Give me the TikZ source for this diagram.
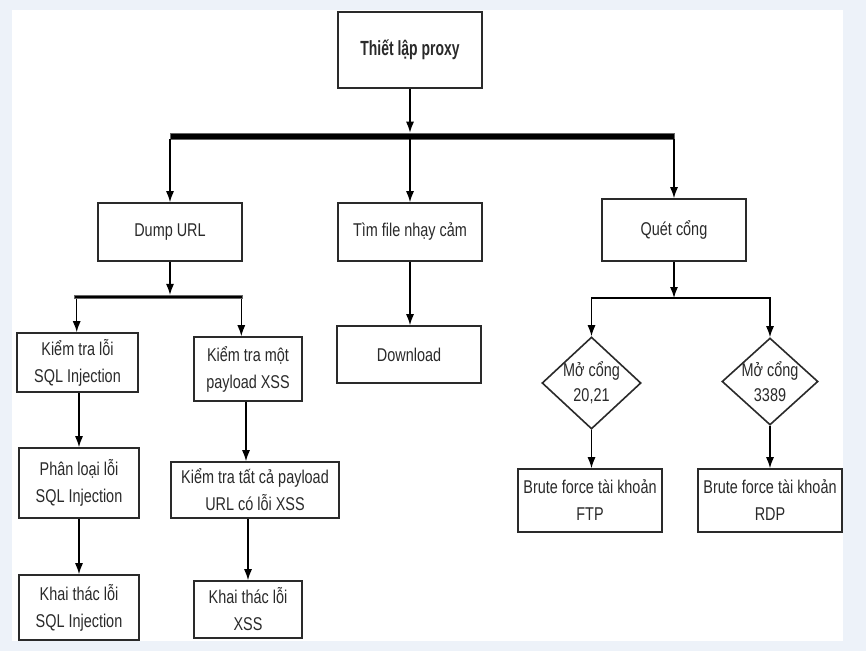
\documentclass[tikz,border=0pt]{standalone}
\usepackage{fontspec}
\setmainfont{Liberation Sans}[FakeStretch=0.78]
\newfontfamily\titlefont{Liberation Sans}[FakeStretch=0.68]
\usetikzlibrary{shapes.geometric,arrows.meta}
\definecolor{bgc}{HTML}{EDF2F9}
\definecolor{ink}{HTML}{2A2A2A}
\begin{document}
\begin{tikzpicture}[x=1pt,y=-1pt,
  box/.style={draw=ink,line width=1.6pt,fill=white,inner sep=1pt,align=center,text=ink,
    font=\fontsize{18.5}{27}\selectfont},
  dia/.style={diamond,draw=ink,line width=1.6pt,fill=white,inner sep=0pt},
  dialabel/.style={text=ink,align=center,inner sep=0pt,font=\fontsize{18.5}{25}\selectfont},
  arr/.style={-{Latex[length=11pt,width=8pt]},line width=1.3pt,draw=black},
  plain/.style={line width=1.3pt,draw=black},
  barbox/.style={fill=black,draw=black!60,line width=0.6pt,inner sep=0pt}
]
\useasboundingbox (0,0) rectangle (866,651);
\fill[bgc] (0,0) rectangle (866,651);
\fill[white] (12,10) rectangle (843,641);

% nodes
\node[box,minimum width=144pt,minimum height=76pt,font=\titlefont\bfseries\fontsize{20.5}{24}\selectfont] (proxy) at (410,50) {Thiết lập proxy};
\node[barbox,minimum width=504pt,minimum height=6pt] (bar1) at (422,136) {};

\node[box,minimum width=144pt,minimum height=58pt] (dump) at (170,232) {Dump URL};
\node[box,minimum width=144pt,minimum height=58pt] (timfile) at (410,232) {Tìm file nhạy cảm};
\node[box,minimum width=144pt,minimum height=62pt] (quet) at (674,230) {Quét cổng};

\node[barbox,minimum width=168pt,minimum height=3.5pt] (bar2) at (158,297) {};
\coordinate (j3) at (674,298);

\node[box,minimum width=121pt,minimum height=59pt] (sql1) at (77.5,362.5) {Kiểm tra lỗi\\SQL Injection};
\node[box,minimum width=108pt,minimum height=64pt] (xss1) at (248,369) {Kiểm tra một\\payload XSS};
\node[box,minimum width=144pt,minimum height=57pt] (download) at (409,354.5) {Download};

\node[dia,minimum width=99pt,minimum height=92pt,
  label={[dialabel]center:Mở cổng\\20,21}] (d1) at (591.5,383) {};
\node[dia,minimum width=96pt,minimum height=87pt,
  label={[dialabel]center:Mở cổng\\3389}] (d2) at (770,381.5) {};

\node[box,minimum width=120pt,minimum height=70pt] (sql2) at (79,483) {Phân loại lỗi\\SQL Injection};
\node[box,minimum width=168pt,minimum height=56pt] (xss2) at (255,490) {Kiểm tra tất cả payload\\URL có lỗi XSS};
\node[box,minimum width=144pt,minimum height=63pt] (ftp) at (590,500.5) {Brute force tài khoản\\FTP};
\node[box,minimum width=144pt,minimum height=63pt] (rdp) at (770,500.5) {Brute force tài khoản\\RDP};

\node[box,minimum width=120pt,minimum height=65pt] (sql3) at (79,607.5) {Khai thác lỗi\\SQL Injection};
\node[box,minimum width=108pt,minimum height=57pt] (xss3) at (248,609.5) {Khai thác lỗi\\XSS};

% connectors
\draw[arr] (proxy.south) -- (proxy.south |- bar1.north);
\draw[arr] (dump.north |- bar1.south) -- (dump.north);
\draw[arr] (timfile.north |- bar1.south) -- (timfile.north);
\draw[arr] (quet.north |- bar1.south) -- (quet.north);

\draw[arr] (dump.south) -- (dump.south |- bar2.north);
\draw[arr] ([xshift=3pt]bar2.south west) -- ([xshift=3pt]bar2.south west |- sql1.north);
\draw[arr] ([xshift=-1pt]bar2.south east) -- ([xshift=-1pt]bar2.south east |- xss1.north);

\draw[arr] (timfile.south) -- (timfile.south |- download.north);

\draw[arr] (quet.south) -- (j3);
\draw[arr] (j3) -| (d1.north);
\draw[arr] (j3) -| (d2.north);
\draw[arr] (d1.south) -- (d1.south |- ftp.north);
\draw[arr] (d2.south) -- (d2.south |- rdp.north);

\draw[arr] ([xshift=1.5pt]sql1.south) -- ([xshift=1.5pt]sql1.south |- sql2.north);
\draw[arr] (sql2.south) -- (sql3.north);
\draw[arr] ([xshift=-2pt]xss1.south) -- ([xshift=-2pt]xss1.south |- xss2.north);
\draw[arr] (xss3.north |- xss2.south) -- (xss3.north);
\end{tikzpicture}
\end{document}
